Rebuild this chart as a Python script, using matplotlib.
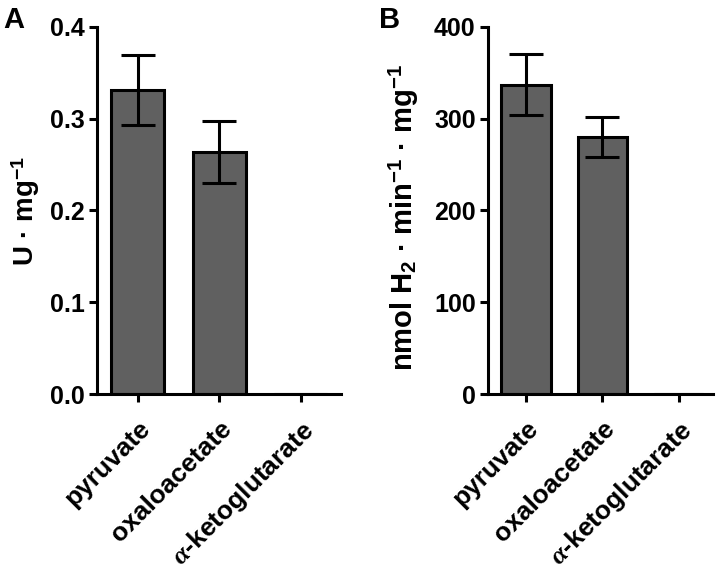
import numpy as np
import matplotlib
matplotlib.use('Agg')
import matplotlib.pyplot as plt

plt.rcParams['font.family'] = ['Liberation Sans', 'DejaVu Sans']
plt.rcParams['font.weight'] = 'bold'
plt.rcParams['mathtext.fontset'] = 'custom'
plt.rcParams['mathtext.rm'] = 'Liberation Sans:bold'
plt.rcParams['mathtext.bf'] = 'Liberation Sans:bold'
plt.rcParams['mathtext.it'] = 'Liberation Serif:italic'

substrates = ['pyruvate', 'oxaloacetate', r'$\alpha$-ketoglutarate']
activity_u = [0.331, 0.264, 0.0]
activity_u_err = [0.038, 0.034, 0.0]
h2_rate = [337, 280, 0.0]
h2_rate_err = [33, 22, 0.0]

bar_color = '#606060'
lw = 2.2

fig = plt.figure(figsize=(7.2, 5.72), dpi=100)
axA = fig.add_axes([0.135, 0.311, 0.339, 0.642])
axB = fig.add_axes([0.678, 0.311, 0.312, 0.642])


def draw(ax, vals, errs, ylim, yticks, ylabel, xlim, fmt, label_xy, label_size):
    x = np.arange(len(vals))
    ax.bar(x, vals, width=0.65, color=bar_color, edgecolor='black', linewidth=lw, zorder=2)
    ax.errorbar(x[:2], vals[:2], yerr=errs[:2], fmt='none', ecolor='black',
                elinewidth=lw, capsize=12, capthick=lw, zorder=3)
    ax.set_xlim(*xlim)
    ax.set_ylim(*ylim)
    ax.set_yticks(yticks)
    ax.set_yticklabels([fmt.format(v) for v in yticks])
    ax.set_xticks(x)
    ax.set_xticklabels(substrates, rotation=45, ha='right', rotation_mode='anchor')
    for s in ['top', 'right']:
        ax.spines[s].set_visible(False)
    for s in ['left', 'bottom']:
        ax.spines[s].set_linewidth(lw)
    ax.tick_params(axis='both', direction='out', length=6, width=lw, labelsize=18, pad=3)
    ax.tick_params(axis='x', labelsize=19, pad=10)
    ax.set_ylabel(ylabel, fontsize=label_size, fontweight='bold')
    ax.yaxis.set_label_coords(*label_xy)
    for t in ax.get_xticklabels() + ax.get_yticklabels():
        t.set_fontweight('bold')


draw(axA, activity_u, activity_u_err, (0, 0.4), [0.0, 0.1, 0.2, 0.3, 0.4],
     r'U · mg$^{\mathrm{-1}}$', (-0.5, 2.5), '{:.1f}', (-0.225, 0.5), 20)
draw(axB, h2_rate, h2_rate_err, (0, 400), [0, 100, 200, 300, 400],
     r'nmol H$_{\mathrm{2}}$ · min$^{\mathrm{-1}}$ · mg$^{\mathrm{-1}}$', (-0.5, 2.45), '{:.0f}',
     (-0.3, 0.48), 21)

fig.text(0.004, 0.99, 'A', fontsize=21, fontweight='bold', va='top', ha='left')
fig.text(0.527, 0.99, 'B', fontsize=21, fontweight='bold', va='top', ha='left')

fig.savefig('out.png', dpi=100)
